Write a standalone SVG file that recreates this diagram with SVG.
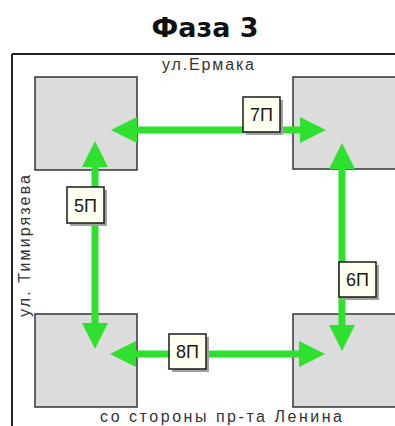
<svg xmlns="http://www.w3.org/2000/svg" width="395" height="426" viewBox="0 0 395 426">
<style>
.block{fill:#dcdcdc;stroke:#333;stroke-width:1.5}
.arrow{stroke:#2fe02f;stroke-width:7;fill:none}
.lbl{fill:#fffff0;stroke:#1a1a1a;stroke-width:1.5}
.shd{fill:#a0a0a0}
.lt{font-family:"Liberation Sans",Arial,sans-serif;font-size:18px;fill:#1a1a1a;text-anchor:middle}
.street{font-family:"Liberation Sans",Arial,sans-serif;font-size:16px;fill:#333}
</style>
<defs>
<marker id="head" viewBox="0 0 26 26" refX="0" refY="13" markerWidth="26" markerHeight="26" markerUnits="userSpaceOnUse" orient="auto-start-reverse">
<path d="M0,0 L26,13 L0,26 Z" fill="#2fe02f"/>
</marker>
</defs>
<rect width="395" height="426" fill="#ffffff"/>
<text x="205" y="37" font-family="DejaVu Sans, Verdana, sans-serif" font-weight="bold" font-size="27" fill="#111" text-anchor="middle">Фаза 3</text>
<path d="M12,54 H400 M12,54 V430" stroke="#222" stroke-width="2" fill="none"/>
<text class="street" x="162" y="70" textLength="92" lengthAdjust="spacing">ул.Ермака</text>
<text class="street" transform="translate(30,317) rotate(-90)" x="0" y="0" textLength="142" lengthAdjust="spacing">ул. Тимирязева</text>
<text class="street" x="100" y="422" font-size="17" textLength="242" lengthAdjust="spacing">со стороны пр-та Ленина</text>
<g id="block-nw"><rect class="block" x="35" y="77" width="102" height="93"/></g>
<g id="block-ne"><rect class="block" x="293" y="77" width="110" height="92"/></g>
<g id="block-sw"><rect class="block" x="35" y="314" width="102" height="93"/></g>
<g id="block-se"><rect class="block" x="293" y="314" width="110" height="93"/></g>
<g id="connectors">
<line class="arrow" x1="137" y1="130" x2="300" y2="130" marker-start="url(#head)" marker-end="url(#head)"/>
<line class="arrow" x1="95" y1="167" x2="95" y2="323" marker-start="url(#head)" marker-end="url(#head)"/>
<line class="arrow" x1="342" y1="169" x2="342" y2="325" marker-start="url(#head)" marker-end="url(#head)"/>
<line class="arrow" x1="136" y1="354" x2="299" y2="354" marker-start="url(#head)" marker-end="url(#head)"/>
</g>
<g id="label-7P"><rect class="shd" x="246" y="100" width="37" height="35"/><rect class="lbl" x="243" y="97" width="37" height="35"/><text class="lt" x="261.5" y="121">7П</text></g>
<g id="label-5P"><rect class="shd" x="70" y="190" width="37" height="36"/><rect class="lbl" x="67" y="187" width="37" height="36"/><text class="lt" x="85.5" y="211.5">5П</text></g>
<g id="label-6P"><rect class="shd" x="342" y="265" width="37" height="35"/><rect class="lbl" x="339" y="262" width="37" height="35"/><text class="lt" x="357.5" y="286">6П</text></g>
<g id="label-8P"><rect class="shd" x="172" y="337" width="37" height="35"/><rect class="lbl" x="169" y="334" width="37" height="35"/><text class="lt" x="187.5" y="358">8П</text></g>
</svg>
